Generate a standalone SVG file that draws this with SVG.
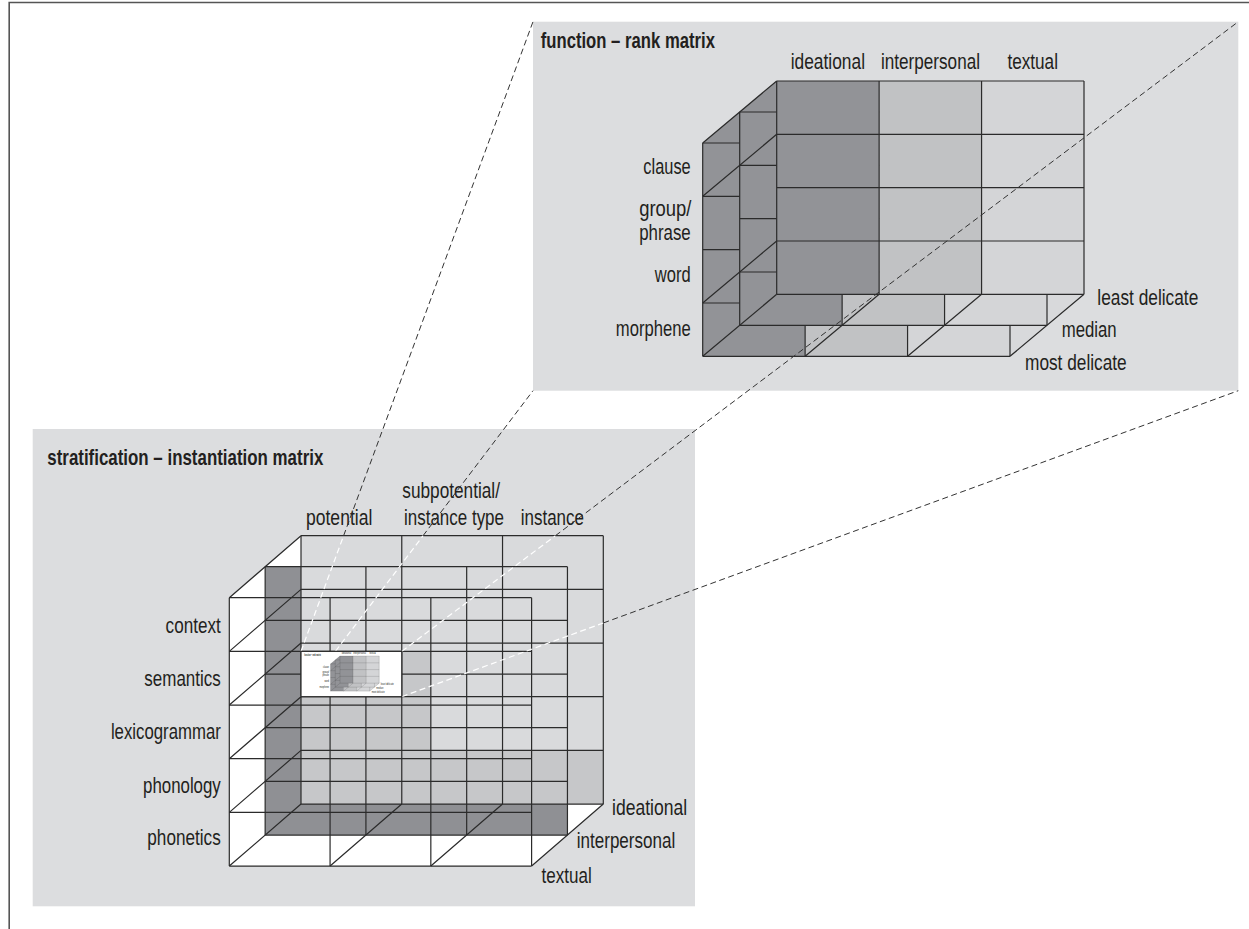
<svg xmlns="http://www.w3.org/2000/svg" xmlns:xlink="http://www.w3.org/1999/xlink" width="1249" height="929" viewBox="0 0 1249 929">
<style>
.panel{fill:#dcdddf}
.dk{fill:#929397}
.md{fill:#c1c2c4}
.lt{fill:#d4d5d7}
.lbl{font-family:"Liberation Sans Narrow","Liberation Sans",Arial,sans-serif;font-size:22.5px;fill:#231f20}
.ttl{font-family:"Liberation Sans Narrow","Liberation Sans",Arial,sans-serif;font-size:22.5px;font-weight:bold;fill:#231f20}
.g{fill:none;stroke:#2b2b2b;stroke-width:1.2}
.dash{fill:none;stroke:#333;stroke-width:1;stroke-dasharray:6 3.5}
.dashw{fill:none;stroke:#fff;stroke-width:1.2;stroke-dasharray:6 3.5}
</style>
<rect width="1249" height="929" fill="#fff"/>
<path d="M9.2,929 V2.5 H1249" fill="none" stroke="#555" stroke-width="1.6"/>

<g id="function-rank-matrix">
<rect class="panel" x="533" y="21.7" width="705.3" height="369"/>
<text class="ttl" x="540.7" y="48" textLength="174.3" lengthAdjust="spacingAndGlyphs">function – rank matrix</text>
<g id="fr-content">
<polygon fill="#d8d9db" points="702.7,143 776.7,81 1084,81 1084,294.33 1010,356.33 702.7,356.33"/>
<polygon class="dk" points="702.7,143 776.7,81 776.7,143"/>
<rect class="dk" x="702.7" y="143" width="102.43" height="213.33"/>
<rect class="md" x="805.13" y="143" width="102.44" height="213.33"/>
<rect class="lt" x="907.57" y="143" width="102.43" height="213.33"/>
<path class="g" d="M702.7 143H1010M702.7 196.33H1010M702.7 249.67H1010M702.7 303H1010M702.7 356.33H1010M702.7 143V356.33M805.13 143V356.33M907.57 143V356.33M1010 143V356.33"/>
<rect class="dk" x="739.7" y="112" width="102.43" height="213.33"/>
<rect class="md" x="842.13" y="112" width="102.44" height="213.33"/>
<rect class="lt" x="944.57" y="112" width="102.43" height="213.33"/>
<path class="g" d="M739.7 112H1047M739.7 165.33H1047M739.7 218.67H1047M739.7 272H1047M739.7 325.33H1047M739.7 112V325.33M842.13 112V325.33M944.57 112V325.33M1047 112V325.33"/>
<rect class="dk" x="776.7" y="81" width="102.43" height="213.33"/>
<rect class="md" x="879.13" y="81" width="102.44" height="213.33"/>
<rect class="lt" x="981.57" y="81" width="102.43" height="213.33"/>
<path class="g" d="M776.7 81H1084M776.7 134.33H1084M776.7 187.67H1084M776.7 241H1084M776.7 294.33H1084M776.7 81V294.33M879.13 81V294.33M981.57 81V294.33M1084 81V294.33"/>
<path class="g" d="M702.7 143L776.7 81M702.7 196.33L776.7 134.33M702.7 303L776.7 241M702.7 356.33L776.7 294.33M805.13 356.33L879.13 294.33M907.57 356.33L981.57 294.33M1010 356.33L1084 294.33"/>
<text class="lbl" x="790.7" y="69.3" textLength="74.3" lengthAdjust="spacingAndGlyphs">ideational</text>
<text class="lbl" x="881" y="69.3" textLength="99" lengthAdjust="spacingAndGlyphs">interpersonal</text>
<text class="lbl" x="1007.4" y="69.3" textLength="50.6" lengthAdjust="spacingAndGlyphs">textual</text>
<text class="lbl" x="643.3" y="174" textLength="47.4" lengthAdjust="spacingAndGlyphs">clause</text>
<text class="lbl" x="639.2" y="216" textLength="52.3" lengthAdjust="spacingAndGlyphs">group/</text>
<text class="lbl" x="639.2" y="240" textLength="51.5" lengthAdjust="spacingAndGlyphs">phrase</text>
<text class="lbl" x="654.8" y="282" textLength="35.8" lengthAdjust="spacingAndGlyphs">word</text>
<text class="lbl" x="615.8" y="335.5" textLength="74.9" lengthAdjust="spacingAndGlyphs">morphene</text>
<text class="lbl" x="1097.3" y="305" textLength="101" lengthAdjust="spacingAndGlyphs">least delicate</text>
<text class="lbl" x="1061.7" y="336.7" textLength="55" lengthAdjust="spacingAndGlyphs">median</text>
<text class="lbl" x="1025" y="370" textLength="101.7" lengthAdjust="spacingAndGlyphs">most delicate</text>
</g>
</g>

<g id="stratification-instantiation-matrix">
<rect class="panel" x="32.7" y="429" width="662.3" height="477.3"/>
<text class="ttl" x="47.3" y="465" textLength="276" lengthAdjust="spacingAndGlyphs">stratification – instantiation matrix</text>
<polygon fill="#fff" points="229.3,597.7 301,535.7 603.3,535.7 603.3,804.03 531.6,866.03 229.3,866.03"/>
<rect fill="#8f9094" x="265.15" y="566.7" width="302.3" height="268.33"/>
<rect fill="#d9dadc" x="301" y="535.7" width="302.3" height="268.33"/>
<polygon fill="#c6c7c9" points="301,651.37 430.83,651.37 430.83,750.37 603.3,750.37 603.3,804.03 301,804.03"/>
<path class="g" stroke-width="1.3" d="M229.3 597.7H531.6M229.3 651.37H531.6M229.3 705.03H531.6M229.3 758.7H531.6M229.3 812.37H531.6M229.3 866.03H531.6M229.3 597.7V866.03M330.07 597.7V866.03M430.83 597.7V866.03M531.6 597.7V866.03"/>
<path class="g" stroke-width="1.3" d="M265.15 566.7H567.45M265.15 620.37H567.45M265.15 674.03H567.45M265.15 727.7H567.45M265.15 781.37H567.45M265.15 835.03H567.45M265.15 566.7V835.03M365.92 566.7V835.03M466.68 566.7V835.03M567.45 566.7V835.03"/>
<path class="g" stroke-width="1.3" d="M301 535.7H603.3M301 589.37H603.3M301 643.03H603.3M301 696.7H603.3M301 750.37H603.3M301 804.03H603.3M301 535.7V804.03M401.77 535.7V804.03M502.53 535.7V804.03M603.3 535.7V804.03"/>
<path class="g" stroke-width="1.3" d="M229.3 597.7L301 535.7M229.3 651.37L301 589.37M229.3 705.03L301 643.03M229.3 758.7L301 696.7M229.3 812.37L301 750.37M229.3 866.03L301 804.03M330.07 866.03L401.77 804.03M430.83 866.03L502.53 804.03M531.6 866.03L603.3 804.03"/>
<text class="lbl" x="306" y="525" textLength="66.3" lengthAdjust="spacingAndGlyphs">potential</text>
<text class="lbl" x="402.3" y="498.3" textLength="97.7" lengthAdjust="spacingAndGlyphs">subpotential/</text>
<text class="lbl" x="404" y="525" textLength="100" lengthAdjust="spacingAndGlyphs">instance type</text>
<text class="lbl" x="520.7" y="525" textLength="63.3" lengthAdjust="spacingAndGlyphs">instance</text>
<text class="lbl" x="165.6" y="632.5" textLength="55.2" lengthAdjust="spacingAndGlyphs">context</text>
<text class="lbl" x="144.3" y="686" textLength="76.5" lengthAdjust="spacingAndGlyphs">semantics</text>
<text class="lbl" x="110.9" y="739.3" textLength="109.9" lengthAdjust="spacingAndGlyphs">lexicogrammar</text>
<text class="lbl" x="143" y="792.7" textLength="77.8" lengthAdjust="spacingAndGlyphs">phonology</text>
<text class="lbl" x="147.3" y="845" textLength="73.5" lengthAdjust="spacingAndGlyphs">phonetics</text>
<text class="lbl" x="612" y="815" textLength="75.2" lengthAdjust="spacingAndGlyphs">ideational</text>
<text class="lbl" x="576.8" y="848.3" textLength="98.4" lengthAdjust="spacingAndGlyphs">interpersonal</text>
<text class="lbl" x="541.6" y="883.3" textLength="50.2" lengthAdjust="spacingAndGlyphs">textual</text>
</g>

<g id="connectors">
<path class="dashw" d="M301 651.37L343.62 535.7M301 696.7L423.07 535.7M401.77 651.37L555.44 535.7M401.77 696.7L603.3 622.98"/>
<path class="dash" d="M343.62 535.7L533 21.7M423.07 535.7L533 390.7M555.44 535.7L1238.3 21.7M603.3 622.98L1238.3 390.7"/>
</g>

<g id="inset-zoom">
<rect x="301" y="651.37" width="100.77" height="45.33" fill="#fff" stroke="#2b2b2b" stroke-width="1.2"/>
<use xlink:href="#fr-content" href="#fr-content" transform="translate(240.97,645.67) scale(0.1275)"/>
<text class="ttl" x="304.3" y="655.6" style="font-size:3px" textLength="16.7" lengthAdjust="spacingAndGlyphs">function – rank matrix</text>
</g>
</svg>
